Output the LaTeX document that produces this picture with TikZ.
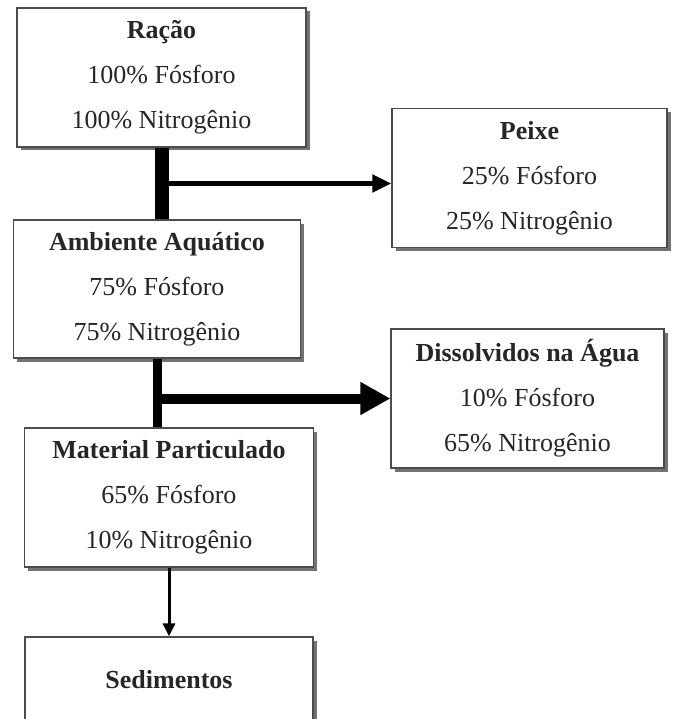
\documentclass[tikz,border=0pt]{standalone}
\usepackage{fontspec}
\setmainfont{Liberation Serif}
\usetikzlibrary{arrows.meta, calc, positioning, shadows}

\begin{document}
\begin{tikzpicture}[x=1pt, y=-1pt,
		every node/.style={font=\fontsize{26}{45}\selectfont, text=black!85},
		box/.style={draw=black!70, line width=1.2pt, fill=white, align=center, inner sep=0pt,
			drop shadow={shadow xshift=3.5pt, shadow yshift=-3.5pt, fill=black!55, opacity=1}}]
		\clip (0,0) rectangle (672,719);
		\fill[white] (0,0) rectangle (672,719);
		\node[box, minimum width=289pt, minimum height=139pt] (racao) at (161.5,77.5)
			{\textbf{Ração}\\100\% Fósforo\\100\% Nitrogênio};
		\node[box, minimum width=287pt, minimum height=138pt] (ambiente) at (157,289)
			{\textbf{Ambiente Aquático}\\75\% Fósforo\\75\% Nitrogênio};
		\node[box, minimum width=289pt, minimum height=139pt] (material) at (169,497.5)
			{\textbf{Material Particulado}\\65\% Fósforo\\10\% Nitrogênio};
		\node[box, minimum width=288pt, minimum height=85pt] (sedimentos) at (169,679.5)
			{\textbf{Sedimentos}};
		\node[box, minimum width=275pt, minimum height=139pt] (peixe) at (529.5,178)
			{\textbf{Peixe}\\25\% Fósforo\\25\% Nitrogênio};
		\node[box, minimum width=273pt, minimum height=139pt] (dissolvidos) at (527.5,398.5)
			{\textbf{Dissolvidos na Água}\\10\% Fósforo\\65\% Nitrogênio};
		% split points on the bars
		\coordinate (j1) at ($(racao.south)!0.5!(racao.south |- ambiente.north)$);
		\coordinate (j2) at ($(ambiente.south)!0.58!(ambiente.south |- material.north)$);
		\draw[line width=14pt] (racao.south) -- (racao.south |- ambiente.north);
		\draw[line width=5pt, -{Triangle[length=19pt, width=17pt]}] (j1) -- (j1 -| peixe.west);
		\draw[line width=9pt] (ambiente.south) -- (ambiente.south |- material.north);
		\draw[line width=10pt, -{Triangle[length=30pt, width=31pt]}] (j2) -- (j2 -| dissolvidos.west);
		\draw[line width=3pt, -{Triangle[length=13pt, width=12pt]}] (material.south) -- (sedimentos.north);
	\end{tikzpicture}
\end{document}
